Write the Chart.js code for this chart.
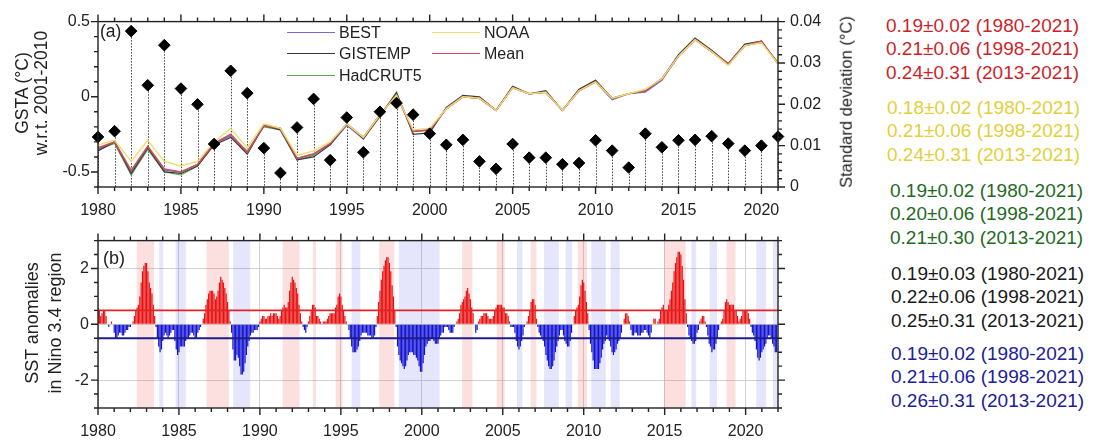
<!DOCTYPE html>
<html>
<head>
<meta charset="utf-8">
<script src="https://cdn.jsdelivr.net/npm/chart.js@4.4.1/dist/chart.umd.min.js"></script>
<style>
  body{margin:0;background:#fff;width:1094px;height:444px;overflow:hidden;position:relative;font-family:"Liberation Sans",Arial,sans-serif;color:#222;}
  canvas{position:absolute;left:0;}
  #ca{top:0;} #cb{top:222px;}
  .t{position:absolute;white-space:nowrap;line-height:1;}
  .rot{transform:translate(-50%,-50%) rotate(-90deg);}
  .lg{position:absolute;height:0;}
</style>
</head>
<body>
<canvas id="ca" width="880" height="222"></canvas>
<canvas id="cb" width="880" height="222"></canvas>
<div id="overlay"></div>
<script>
// ---- data ----
const years = [1980,1981,1982,1983,1984,1985,1986,1987,1988,1989,1990,1991,1992,1993,1994,1995,1996,1997,1998,1999,
               2000,2001,2002,2003,2004,2005,2006,2007,2008,2009,2010,2011,2012,2013,2014,2015,2016,2017,2018,2019,2020,2021];
const best     = [-0.35,-0.30,-0.50,-0.33,-0.49,-0.50,-0.45,-0.31,-0.26,-0.38,-0.19,-0.21,-0.41,-0.38,-0.32,-0.19,-0.28,-0.12,0.01,-0.23,
                  -0.22,-0.08,0.00,-0.01,-0.09,0.06,0.02,0.03,-0.09,0.04,0.10,-0.02,0.02,0.03,0.11,0.27,0.38,0.30,0.21,0.34,0.37,0.22];
const noaa     = [-0.32,-0.29,-0.43,-0.29,-0.43,-0.46,-0.43,-0.30,-0.21,-0.34,-0.18,-0.21,-0.39,-0.36,-0.30,-0.18,-0.27,-0.12,0.01,-0.22,
                  -0.21,-0.08,0.00,-0.01,-0.09,0.06,0.02,0.03,-0.09,0.04,0.10,-0.01,0.02,0.05,0.12,0.27,0.38,0.30,0.21,0.34,0.36,0.22];
const gistemp  = [-0.36,-0.30,-0.51,-0.34,-0.50,-0.51,-0.46,-0.32,-0.27,-0.38,-0.19,-0.22,-0.42,-0.40,-0.32,-0.18,-0.28,-0.13,0.03,-0.25,
                  -0.24,-0.07,0.01,0.00,-0.09,0.07,0.02,0.04,-0.09,0.05,0.11,-0.01,0.02,0.04,0.12,0.28,0.39,0.31,0.22,0.35,0.37,0.22];
const hadcrut5 = [-0.35,-0.31,-0.52,-0.35,-0.50,-0.52,-0.46,-0.31,-0.26,-0.36,-0.20,-0.22,-0.42,-0.39,-0.31,-0.19,-0.27,-0.12,0.02,-0.23,
                  -0.22,-0.08,0.00,-0.01,-0.09,0.06,0.02,0.03,-0.09,0.04,0.11,-0.01,0.02,0.04,0.12,0.27,0.38,0.30,0.22,0.34,0.36,0.23];
const meanGsta = [-0.34,-0.30,-0.49,-0.33,-0.48,-0.50,-0.45,-0.31,-0.25,-0.37,-0.19,-0.21,-0.41,-0.38,-0.31,-0.18,-0.27,-0.12,0.01,-0.23,
                  -0.22,-0.08,0.00,-0.01,-0.09,0.06,0.02,0.03,-0.09,0.04,0.10,-0.01,0.02,0.04,0.12,0.27,0.38,0.30,0.22,0.34,0.37,0.22];
// standard deviation among datasets (right axis)
const stdDev = [0.0121,0.0135,0.0377,0.0246,0.0343,0.0238,0.0200,0.0104,0.0281,0.0227,0.0094,0.0034,0.0144,0.0213,0.0065,0.0168,0.0084,0.0182,0.0203,0.0175,
                0.0129,0.0102,0.0114,0.0062,0.0044,0.0104,0.0071,0.0071,0.0055,0.0058,0.0113,0.0088,0.0047,0.0129,0.0096,0.0113,0.0114,0.0123,0.0105,0.0088,0.0100,0.0122];

// Nino 3.4 SST anomalies, monthly (3-month running), Jan 1980 .. Dec 2021
const nino34 = [
  0.6,0.5,0.3,0.4,0.5,0.5,0.3,0.0,-0.1,0.0,0.1,0.0,        // 1980
  -0.3,-0.5,-0.5,-0.4,-0.3,-0.3,-0.4,-0.4,-0.3,-0.2,-0.2,-0.1,
  -0.1,0.0,0.1,0.3,0.5,0.6,0.7,1.0,1.5,1.9,2.1,2.2,
  2.2,1.9,1.5,1.3,1.1,0.7,0.3,-0.1,-0.5,-0.8,-1.0,-0.9,
  -0.6,-0.4,-0.3,-0.4,-0.5,-0.4,-0.3,-0.2,-0.2,-0.6,-0.9,-1.1,
  -1.0,-0.8,-0.8,-0.8,-0.8,-0.6,-0.5,-0.5,-0.4,-0.3,-0.3,-0.4, // 1985
  -0.5,-0.5,-0.3,-0.2,-0.1,0.0,0.2,0.4,0.7,0.9,1.1,1.2,
  1.2,1.2,1.1,0.9,1.0,1.2,1.5,1.7,1.6,1.5,1.3,1.1,
  0.8,0.5,0.1,-0.3,-0.9,-1.3,-1.3,-1.1,-1.2,-1.5,-1.8,-1.8,
  -1.7,-1.4,-1.1,-0.8,-0.6,-0.4,-0.3,-0.3,-0.2,-0.2,-0.2,-0.1,
  0.1,0.2,0.3,0.3,0.2,0.2,0.3,0.3,0.4,0.3,0.4,0.4,          // 1990
  0.4,0.3,0.2,0.3,0.5,0.6,0.7,0.6,0.6,0.8,1.2,1.5,
  1.7,1.6,1.5,1.3,1.1,0.7,0.4,0.1,-0.1,-0.2,-0.3,-0.1,
  0.1,0.3,0.5,0.7,0.7,0.6,0.3,0.3,0.2,0.1,0.0,0.1,
  0.1,0.1,0.2,0.3,0.4,0.4,0.4,0.4,0.6,0.7,1.0,1.1,
  1.0,0.7,0.5,0.3,0.1,0.0,-0.2,-0.5,-0.8,-1.0,-1.0,-1.0,   // 1995
  -0.9,-0.8,-0.6,-0.4,-0.3,-0.3,-0.3,-0.3,-0.4,-0.4,-0.4,-0.5,
  -0.5,-0.4,-0.1,0.3,0.8,1.2,1.6,1.9,2.1,2.3,2.4,2.4,
  2.2,1.9,1.4,1.0,0.5,-0.1,-0.8,-1.1,-1.3,-1.4,-1.5,-1.6,
  -1.5,-1.3,-1.1,-1.0,-1.0,-1.0,-1.1,-1.1,-1.2,-1.3,-1.5,-1.7,
  -1.7,-1.4,-1.1,-0.8,-0.7,-0.6,-0.6,-0.5,-0.5,-0.6,-0.7,-0.7, // 2000
  -0.7,-0.5,-0.4,-0.3,-0.3,-0.1,-0.1,-0.1,-0.2,-0.3,-0.3,-0.3,
  -0.1,0.0,0.1,0.2,0.4,0.7,0.8,0.9,1.0,1.2,1.3,1.1,
  0.9,0.6,0.4,0.0,-0.3,-0.2,0.1,0.2,0.3,0.3,0.4,0.4,
  0.4,0.3,0.2,0.2,0.2,0.3,0.5,0.6,0.7,0.7,0.7,0.7,
  0.6,0.6,0.4,0.4,0.3,0.1,-0.1,-0.1,-0.1,-0.3,-0.6,-0.8,   // 2005
  -0.9,-0.8,-0.6,-0.4,-0.1,0.0,0.1,0.3,0.5,0.8,0.9,0.9,
  0.7,0.2,-0.1,-0.3,-0.4,-0.5,-0.6,-0.8,-1.1,-1.3,-1.5,-1.6,
  -1.6,-1.5,-1.3,-1.0,-0.8,-0.6,-0.4,-0.2,-0.2,-0.4,-0.6,-0.7,
  -0.8,-0.8,-0.6,-0.3,0.0,0.3,0.5,0.6,0.7,1.0,1.4,1.6,
  1.5,1.2,0.8,0.4,-0.2,-0.7,-1.0,-1.3,-1.6,-1.6,-1.6,-1.6, // 2010
  -1.4,-1.2,-0.9,-0.7,-0.6,-0.4,-0.5,-0.6,-0.8,-1.0,-1.1,-1.0,
  -0.9,-0.7,-0.6,-0.5,-0.3,0.0,0.2,0.4,0.4,0.3,0.1,-0.2,
  -0.4,-0.4,-0.3,-0.3,-0.4,-0.4,-0.4,-0.3,-0.3,-0.2,-0.2,-0.3,
  -0.4,-0.5,-0.3,0.0,0.2,0.2,0.0,0.1,0.2,0.5,0.6,0.7,
  0.5,0.5,0.5,0.7,0.9,1.2,1.5,1.9,2.2,2.4,2.6,2.6,         // 2015
  2.5,2.1,1.6,0.9,0.4,-0.1,-0.4,-0.5,-0.6,-0.7,-0.7,-0.6,
  -0.3,-0.2,0.1,0.2,0.3,0.3,0.1,-0.1,-0.4,-0.7,-0.8,-1.0,
  -0.9,-0.9,-0.7,-0.5,-0.2,0.0,0.1,0.2,0.5,0.8,0.9,0.8,
  0.7,0.7,0.7,0.7,0.5,0.5,0.3,0.1,0.2,0.3,0.5,0.5,
  0.5,0.5,0.4,0.2,-0.1,-0.3,-0.4,-0.6,-0.9,-1.2,-1.3,-1.2, // 2020
  -1.0,-0.9,-0.8,-0.7,-0.5,-0.4,-0.4,-0.5,-0.7,-0.8,-1.0,-1.0
];
const ensoThreshold = 0.5;
const elNinoBands = [[1982.39,1983.46],[1986.70,1988.08],[1991.40,1992.45],[1993.28,1993.46],[1994.68,1995.10],[1997.37,1998.30],
                     [2002.49,2003.13],[2004.62,2005.12],[2006.72,2007.08],[2009.63,2010.20],[2014.96,2016.30],[2018.82,2019.38]];
const laNinaBands = [[1983.78,1984.03],[1984.80,1985.42],[1988.35,1989.40],[1995.66,1996.20],[1998.58,2001.10],[2005.88,2006.21],
                     [2007.55,2008.46],[2008.89,2009.28],[2010.47,2011.36],[2011.67,2012.22],[2016.65,2016.95],[2017.78,2018.23],
                     [2020.66,2021.27],[2021.69,2021.95]];

const yearTicks = [1980,1985,1990,1995,2000,2005,2010,2015,2020];
const gstaTicks = [-0.5,0,0.5];
const stdTicks = [0,0.01,0.02,0.03,0.04];
const sstTicks = [-2,0,2];

const trendRed    = ['0.19±0.02 (1980-2021)','0.21±0.06 (1998-2021)','0.24±0.31 (2013-2021)'];
const trendYellow = ['0.18±0.02 (1980-2021)','0.21±0.06 (1998-2021)','0.24±0.31 (2013-2021)'];
const trendGreen  = ['0.19±0.02 (1980-2021)','0.20±0.06 (1998-2021)','0.21±0.30 (2013-2021)'];
const trendBlack  = ['0.19±0.03 (1980-2021)','0.22±0.06 (1998-2021)','0.25±0.31 (2013-2021)'];
const trendBlue   = ['0.19±0.02 (1980-2021)','0.21±0.06 (1998-2021)','0.26±0.31 (2013-2021)'];

// ---- helpers ----
Chart.defaults.font.family = '"Liberation Sans", Arial, sans-serif';
Chart.defaults.font.size = 16;
Chart.defaults.color = '#222';

function steps(a, b, s){ const out=[]; for(let v=a; v<=b+s/2; v+=s) out.push(+v.toFixed(4)); return out; }

const frameTicks = {
  id:'frameTicks',
  afterDatasetsDraw(chart, args, opts){
    const {ctx, chartArea:a} = chart;
    ctx.save();
    ctx.strokeStyle = '#222'; ctx.lineWidth = 1.4;
    ctx.strokeRect(a.left, a.top, a.right-a.left, a.bottom-a.top);
    ctx.beginPath();
    opts.marks.forEach(m => {
      const s = chart.scales[m.scale];
      m.values.forEach(v => {
        const p = s.getPixelForValue(v);
        m.edges.forEach(e => {
          if(e==='bottom'){ctx.moveTo(p,a.bottom);ctx.lineTo(p,a.bottom+m.len);}
          if(e==='top'){ctx.moveTo(p,a.top);ctx.lineTo(p,a.top-m.len);}
          if(e==='left'){ctx.moveTo(a.left,p);ctx.lineTo(a.left-m.len,p);}
          if(e==='right'){ctx.moveTo(a.right,p);ctx.lineTo(a.right+m.len,p);}
        });
      });
    });
    ctx.stroke();
    ctx.restore();
  }
};

const dropLines = {
  id:'dropLines',
  beforeDatasetsDraw(chart){
    const {ctx, chartArea:a} = chart;
    const meta = chart.getDatasetMeta(5);
    ctx.save();
    ctx.strokeStyle = '#444'; ctx.lineWidth = 1; ctx.setLineDash([1.5,1.5]);
    meta.data.forEach(pt => {
      const x = Math.round(pt.x)+0.5;
      ctx.beginPath(); ctx.moveTo(x, pt.y); ctx.lineTo(x, a.bottom); ctx.stroke();
    });
    ctx.restore();
  }
};

const ensoBands = {
  id:'ensoBands',
  beforeDatasetsDraw(chart){
    const {ctx, chartArea:a, scales:{x}} = chart;
    ctx.save();
    const paint = (list, col) => list.forEach(([s,e]) => {
      const x0 = x.getPixelForValue(s), x1 = x.getPixelForValue(e);
      ctx.fillStyle = col; ctx.fillRect(x0, a.top, x1-x0, a.bottom-a.top);
    });
    paint(elNinoBands, 'rgba(240,70,70,0.17)');
    paint(laNinaBands, 'rgba(70,70,235,0.14)');
    ctx.restore();
  }
};

const pts = arr => years.map((y,i) => ({x:y, y:arr[i]}));
const fixTicks = list => (s => { s.ticks = list.map(v => ({value:v})); });

// ---- panel (a) ----
const lineStyle = {pointRadius:0, fill:false, tension:0};
new Chart(document.getElementById('ca'), {
  type:'line',
  data:{datasets:[
    {label:'BEST', data:pts(best), borderColor:'#6f6fd2', borderWidth:1.2, order:4, ...lineStyle},
    {label:'NOAA', data:pts(noaa), borderColor:'#f0dc6e', borderWidth:1.4, order:1, ...lineStyle},
    {label:'GISTEMP', data:pts(gistemp), borderColor:'#3a3a3a', borderWidth:1.2, order:3, ...lineStyle},
    {label:'Mean', data:pts(meanGsta), borderColor:'#c8505a', borderWidth:1.6, order:2, ...lineStyle},
    {label:'HadCRUT5', data:pts(hadcrut5), borderColor:'#5aa85a', borderWidth:1.2, order:5, ...lineStyle},
    {type:'scatter', label:'SD', data:pts(stdDev), yAxisID:'y2', pointStyle:'rectRot', pointRadius:5.8,
     backgroundColor:'#000', borderColor:'#000', order:0, clip:false}
  ]},
  options:{
    responsive:false, animation:false,
    layout:{padding:{top:16,left:0,right:0,bottom:0}},
    plugins:{
      legend:{display:false}, tooltip:{enabled:false},
      frameTicks:{marks:[
        {scale:'x', values:years, edges:['bottom','top'], len:4},
        {scale:'x', values:yearTicks, edges:['bottom','top'], len:7},
        {scale:'y', values:steps(-0.6,0.5,0.1), edges:['left'], len:4},
        {scale:'y', values:gstaTicks, edges:['left'], len:7},
        {scale:'y2', values:steps(0,0.04,0.002), edges:['right'], len:4},
        {scale:'y2', values:stdTicks, edges:['right'], len:7}
      ]}
    },
    scales:{
      x:{type:'linear', min:1980, max:2021, grid:{display:false, drawTicks:false}, border:{display:false},
         afterBuildTicks:fixTicks(yearTicks), afterFit:s=>{s.height=35;},
         ticks:{padding:14, autoSkip:false, maxRotation:0, callback:v=>String(v)}},
      y:{position:'left', min:-0.6, max:0.5, grid:{display:false, drawTicks:false}, border:{display:false},
         afterBuildTicks:fixTicks(gstaTicks), afterFit:s=>{s.width=98;},
         ticks:{padding:8, callback:v=>String(v)}},
      y2:{position:'right', min:0, max:0.04, grid:{display:false, drawTicks:false}, border:{display:false},
         afterBuildTicks:fixTicks(stdTicks), afterFit:s=>{s.width=102;},
         ticks:{padding:12, callback:v=> v===0 ? '0' : v.toFixed(2)}}
    }
  },
  plugins:[dropLines, frameTicks]
});

// ---- panel (b) ----
const ninoPts = nino34.map((v,i) => ({x:1980 + i/12, y:v}));
new Chart(document.getElementById('cb'), {
  type:'bar',
  data:{datasets:[
    {type:'line', data:[{x:1980,y:ensoThreshold},{x:2022,y:ensoThreshold}], borderColor:'#e32424', borderWidth:1.6, pointRadius:0, order:0},
    {type:'line', data:[{x:1980,y:-ensoThreshold},{x:2022,y:-ensoThreshold}], borderColor:'#1c1c8a', borderWidth:2, pointRadius:0, order:0},
    {type:'bar', data:ninoPts, backgroundColor:c => (c.raw && c.raw.y >= 0) ? '#e80f0f' : '#1212d2',
     barPercentage:0.88, categoryPercentage:1, order:1}
  ]},
  options:{
    responsive:false, animation:false,
    layout:{padding:{top:16,left:0,right:102,bottom:0}},
    plugins:{
      legend:{display:false}, tooltip:{enabled:false},
      frameTicks:{marks:[
        {scale:'x', values:steps(1980,2022,1), edges:['bottom','top'], len:4},
        {scale:'x', values:yearTicks, edges:['bottom','top'], len:7},
        {scale:'y', values:steps(-3,3,0.5), edges:['left','right'], len:4},
        {scale:'y', values:sstTicks, edges:['left','right'], len:7}
      ]}
    },
    scales:{
      x:{type:'linear', min:1980, max:2022, offset:false, grid:{color:'#d2d2d2', offset:false, drawTicks:false}, border:{display:false},
         afterBuildTicks:fixTicks(yearTicks), afterFit:s=>{s.height=36;},
         ticks:{padding:14, autoSkip:false, maxRotation:0, callback:v=>String(v)}},
      y:{min:-3, max:3, grid:{color:'#d2d2d2', drawTicks:false}, border:{display:false},
         afterBuildTicks:fixTicks(sstTicks), afterFit:s=>{s.width=98;},
         ticks:{padding:9, callback:v=>String(v)}}
    }
  },
  plugins:[ensoBands, frameTicks]
});

// ---- text overlays ----
const ov = document.getElementById('overlay');
function txt(s, x, y, size, color, rot){
  const d = document.createElement('div');
  d.className = 't' + (rot ? ' rot' : '');
  d.textContent = s;
  d.style.fontSize = size + 'px';
  d.style.color = color || '#222';
  d.style.left = x + 'px';
  d.style.top = (rot ? y : y - size/2) + 'px';
  ov.appendChild(d);
}
txt('GSTA (°C)', 23, 93, 17.5, '#222', true);
txt('w.r.t. 2001-2010', 42, 93, 17.5, '#222', true);
txt('Standard deviation (°C)', 846, 102, 16.5, '#222', true);
txt('SST anomalies', 32, 323, 18, '#222', true);
txt('in Nino 3.4 region', 55, 323, 18, '#222', true);
txt('(a)', 100, 32, 17.5);
txt('(b)', 103, 258, 18);

// legend
const legendItems = [
  ['BEST','#6f6fd2',287,33], ['GISTEMP','#3a3a3a',287,54], ['HadCRUT5','#5aa85a',287,76],
  ['NOAA','#f0dc6e',432,33], ['Mean','#c8505a',432,54]
];
legendItems.forEach(([name,col,x,y]) => {
  const l = document.createElement('div');
  l.className = 'lg';
  l.style.cssText = `left:${x}px;top:${y-0.75}px;width:48px;border-top:1.5px solid ${col};`;
  ov.appendChild(l);
  txt(name, x+52, y, 16);
});

// trend numbers column
[[trendRed,'#cf1f2a',886,25],[trendYellow,'#e3cf3a',887,107],[trendGreen,'#1f6a1f',890,190],
 [trendBlack,'#1a1a1a',891,273],[trendBlue,'#20209c',891,353]].forEach(([rows,col,x,y0]) => {
  rows.forEach((s,i) => txt(s, x, y0 + i*23.5, 19, col));
});
</script>
</body>
</html>
